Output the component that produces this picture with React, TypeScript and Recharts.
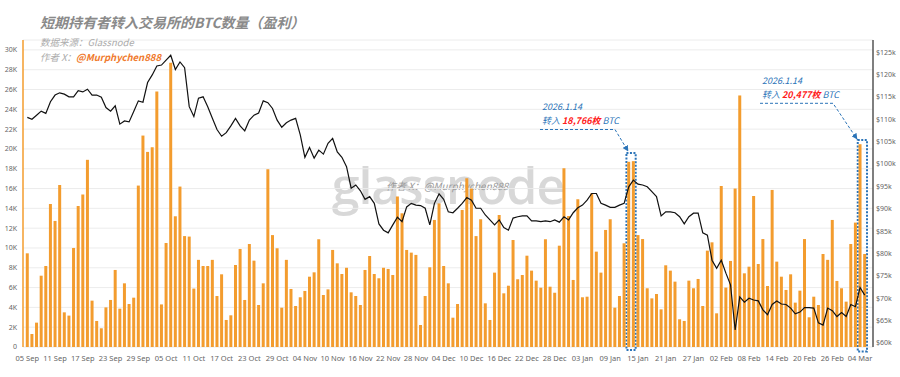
import React from 'react';
import { ComposedChart, Bar, Line, XAxis, YAxis, CartesianGrid, ReferenceArea } from 'recharts';

const START_DATE = [2025, 8, 5]; // 05 Sep 2025
const MONTHS = ['Jan', 'Feb', 'Mar', 'Apr', 'May', 'Jun', 'Jul', 'Aug', 'Sep', 'Oct', 'Nov', 'Dec'];

// STH-in-profit BTC sent to exchanges (daily)
const inflowBTC = [
  9460, 1310, 2460, 7200, 8180, 14440, 12730, 16360, 3500, 3170,
  10000, 14240, 15400, 18900, 4680, 2630, 1890, 4000, 4750, 7780,
  3870, 6430, 4340, 4980, 16300, 21350, 19700, 20170, 25800, 4300,
  10500, 28700, 13200, 16200, 11200, 11150, 5900, 8800, 8180, 8180,
  8800, 5150, 7340, 2730, 3200, 8280, 9900, 4750, 10400, 8720,
  4240, 6430, 17950, 11300, 9970, 3970, 8800, 5860, 4140, 5020,
  5660, 7100, 7540, 10880, 5250, 5820, 9800, 8450, 7370, 8000,
  5520, 5150, 4240, 7780, 9190, 7370, 6940, 8000, 7880, 7270,
  15200, 13500, 9800, 9530, 9300, 2220, 5150, 8050, 12830, 14500,
  8180, 6430, 2960, 4340, 13840, 17040, 16000, 11200, 12900, 4410,
  2730, 7510, 13330, 5420, 6190, 10800, 6840, 7270, 9220, 7710,
  6700, 5990, 10880, 6090, 5480, 10230, 18050, 13230, 6770, 14920,
  5020, 5080, 15520, 9630, 7510, 11820, 12900, 3970, 5150, 10470,
  18700, 18766, 11300, 10900, 5930, 4910, 5350, 3800, 8250, 7710,
  6600, 2800, 2630, 6700, 5930, 6870, 4140, 9730, 10570, 3400,
  16260, 6000, 8690, 16000, 25400, 7440, 8110, 15250, 8380, 10900,
  6160, 15860, 8620, 7100, 5760, 7340, 4480, 5690, 10900, 3000,
  5080, 4240, 9390, 8800, 12830, 6670, 5930, 4580, 10400, 12560,
  20477, 9390,
];

// BTC price, $k
const priceK = [
  110.4, 110.0, 110.9, 111.8, 111.3, 113.9, 115.4, 115.9, 115.6, 115.0,
  115.0, 116.4, 116.1, 116.7, 115.4, 115.4, 114.9, 112.6, 111.8, 113.0,
  108.9, 109.6, 109.4, 111.7, 114.1, 113.8, 118.2, 119.9, 121.9, 122.1,
  123.2, 124.3, 121.1, 122.8, 121.5, 112.8, 110.6, 114.7, 115.0, 112.8,
  110.2, 107.7, 106.2, 107.0, 108.5, 110.2, 108.5, 107.4, 109.8, 110.9,
  111.4, 114.1, 113.7, 112.4, 109.8, 108.2, 109.2, 109.8, 110.2, 106.5,
  101.5, 103.7, 101.3, 103.1, 102.2, 104.6, 105.7, 102.7, 101.5, 99.4,
  94.6, 95.3, 94.0, 92.1, 92.7, 91.2, 86.6, 85.2, 84.6, 86.4,
  88.1, 87.1, 90.4, 91.2, 90.8, 90.7, 90.1, 86.4, 91.2, 93.3,
  92.1, 89.3, 89.1, 90.1, 91.2, 92.5, 91.9, 90.1, 90.1, 88.6,
  87.5, 86.4, 87.5, 85.8, 85.2, 87.9, 88.2, 88.4, 88.4, 87.3,
  87.3, 87.1, 87.3, 87.1, 87.5, 87.0, 88.2, 87.5, 89.1, 90.2,
  90.8, 91.9, 93.4, 93.4, 91.2, 90.8, 90.3, 90.3, 90.8, 91.2,
  94.9, 96.4, 95.5, 95.3, 94.9, 93.8, 92.7, 88.4, 89.3, 89.3,
  89.1, 88.2, 86.6, 88.2, 89.0, 89.0, 84.6, 84.1, 78.5, 76.7,
  78.5, 75.6, 73.0, 62.9, 70.3, 69.1, 70.0, 69.6, 69.4, 67.4,
  66.3, 68.6, 69.4, 68.7, 68.6, 67.8, 66.5, 66.9, 67.9, 67.9,
  67.8, 64.5, 64.0, 67.8, 67.2, 65.9, 66.8, 65.9, 68.6, 68.1,
  72.4, 70.7,
];

const leftTicks = [0, 2000, 4000, 6000, 8000, 10000, 12000, 14000, 16000, 18000, 20000, 22000, 24000, 26000, 28000, 30000];
const rightTicks = [60000, 65000, 70000, 75000, 80000, 85000, 90000, 95000, 100000, 105000, 110000, 115000, 120000, 125000];

const annotations = [
  { x1: '13 Jan', x2: '14 Jan', top: 19600, bottom: -300, date: '2026.1.14', amount: '18,766枚' },
  { x1: '04 Mar', x2: '05 Mar', top: 20900, bottom: -450, date: '2026.1.14', amount: '20,477枚' },
];

function buildDates(n: number): string[] {
  const out: string[] = [];
  for (let i = 0; i < n; i++) {
    const d = new Date(Date.UTC(START_DATE[0], START_DATE[1], START_DATE[2] + i));
    const dd = String(d.getUTCDate()).padStart(2, '0');
    out.push(`${dd} ${MONTHS[d.getUTCMonth()]}`);
  }
  return out;
}

const dates = buildDates(inflowBTC.length);
const data = dates.map((date, i) => ({ date, inflow: inflowBTC[i], price: priceK[i] * 1000 }));

const ORANGE = '#f39c2e';
const BLUE = '#2b74b8';
const CJK = '"Noto Sans CJK SC", "Noto Sans", sans-serif';
const TICK_FONT = '"Noto Sans", "Liberation Sans", sans-serif';

export default function App() {
  return (
    <div style={{ position: 'absolute', left: 0, top: 0, width: 900, height: 377, background: '#fff', overflow: 'hidden' }}>
      <svg width={900} height={377} style={{ position: 'absolute', left: 0, top: 0 }}>
        <text x={448} y={204} textAnchor="middle" fontFamily='"Open Sans", "Noto Sans", sans-serif' fontSize={50} fontWeight={600} fill="#d8d8d8" letterSpacing={-1}>glassnode</text>
        <text x={386} y={190} fontFamily={CJK} fontSize={10} fontStyle="italic" fill="#9a9a9a">作者 X：@Murphychen888</text>
      </svg>
      <div style={{ position: 'absolute', left: 0, top: 0 }}>
        <ComposedChart width={900} height={377} data={data} margin={{ top: 40, right: 0, bottom: 0, left: 0 }} barCategoryGap="17%">
          <CartesianGrid yAxisId="left" vertical={false} stroke="#ececec" />
          <XAxis
            dataKey="date"
            interval={5}
            height={30}
            padding={{ left: 2, right: 6 }}
            axisLine={false}
            tickLine={false}
            tickSize={6}
            tickMargin={3}
            tick={{ fontSize: 7.5, fill: '#666', fontFamily: TICK_FONT }}
          />
          <YAxis
            yAxisId="left"
            orientation="left"
            width={23}
            domain={[0, 31000]}
            ticks={leftTicks}
            interval={0}
            tickFormatter={(v: number) => (v === 0 ? '0' : `${v / 1000}K`)}
            axisLine={{ stroke: ORANGE, strokeWidth: 1.5 }}
            tickLine={false}
            tickSize={4}
            tickMargin={2}
            tick={{ fontSize: 7, fill: '#666', fontFamily: TICK_FONT }}
          />
          <YAxis
            yAxisId="right"
            orientation="right"
            width={27}
            domain={[59100, 127700]}
            ticks={rightTicks}
            interval={0}
            tickFormatter={(v: number) => `$${v / 1000}k`}
            axisLine={{ stroke: '#555', strokeWidth: 1.5 }}
            tickLine={false}
            tickSize={2}
            tickMargin={1}
            tick={{ fontSize: 7, fill: '#666', fontFamily: TICK_FONT }}
          />
          <Bar yAxisId="left" dataKey="inflow" fill={ORANGE} isAnimationActive={false} />
          <Line yAxisId="right" dataKey="price" type="linear" stroke="#111" strokeWidth={1.2} dot={false} activeDot={false} isAnimationActive={false} />
          {annotations.map((a) => (
            <ReferenceArea
              key={a.x1}
              yAxisId="left"
              x1={a.x1}
              x2={a.x2}
              y1={a.bottom}
              y2={a.top}
              ifOverflow="visible"
              fill="none"
              fillOpacity={0}
              stroke={BLUE}
              strokeWidth={2}
              strokeDasharray="2 1.5"
            />
          ))}
        </ComposedChart>
      </div>
      <svg width={900} height={377} style={{ position: 'absolute', left: 0, top: 0, pointerEvents: 'none' }}>
        <defs>
          <marker id="arr" viewBox="0 0 10 10" refX="9" refY="5" markerWidth="6" markerHeight="6" orient="auto">
            <path d="M0,0 L10,5 L0,10 z" fill={BLUE} />
          </marker>
        </defs>
        <text x={40} y={28} fontFamily={CJK} fontSize={14} fontWeight={700} fontStyle="italic" fill="#8a8a8a">短期持有者转入交易所的BTC数量（盈利）</text>
        <text x={40} y={46} fontFamily={CJK} fontSize={9.5} fontStyle="italic" fill="#ababab">数据来源：Glassnode</text>
        <text x={40} y={61} fontFamily={CJK} fontSize={9.5} fontStyle="italic" fill="#ababab">
          作者 X：<tspan fill="#f07a2e" fontWeight={700}>@Murphychen888</tspan>
        </text>

        <text x={542} y={110} fontFamily={CJK} fontSize={9} fontStyle="italic" fill={BLUE}>{annotations[0].date}</text>
        <text x={542} y={124} fontFamily={CJK} fontSize={9} fontStyle="italic" fill={BLUE}>
          转入 <tspan fill="#ff1a1a" fontWeight={700}>{annotations[0].amount}</tspan> BTC
        </text>
        <path d="M540 129.5 L615 129.5 L628 151" fill="none" stroke={BLUE} strokeWidth={1} strokeDasharray="3 2" markerEnd="url(#arr)" />

        <text x={762} y={84} fontFamily={CJK} fontSize={9} fontStyle="italic" fill={BLUE}>{annotations[1].date}</text>
        <text x={762} y={98} fontFamily={CJK} fontSize={9} fontStyle="italic" fill={BLUE}>
          转入 <tspan fill="#ff1a1a" fontWeight={700}>{annotations[1].amount}</tspan> BTC
        </text>
        <path d="M760 103.3 L833 103.3 L857 139" fill="none" stroke={BLUE} strokeWidth={1} strokeDasharray="3 2" markerEnd="url(#arr)" />
      </svg>
    </div>
  );
}
